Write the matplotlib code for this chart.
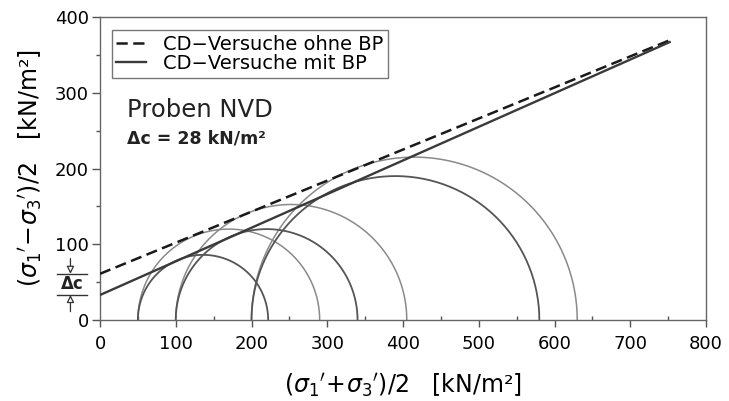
import numpy as np
import matplotlib.pyplot as plt
from matplotlib.ticker import MultipleLocator

# Mohr circles (sigma3', sigma1') in kN/m2
sig3_ohne = [50, 100, 200]
sig1_ohne = [290, 405, 630]
sig3_mit = [50, 100, 200]
sig1_mit = [222, 340, 580]

# failure envelopes: cohesion intercept and slope tan(alpha)
c_ohne, tan_ohne = 61, 0.410
c_mit, tan_mit = 33, 0.444
x_env = [0, 752]

x_ticks = [0, 100, 200, 300, 400, 500, 600, 700, 800]
y_ticks = [0, 100, 200, 300, 400]

plt.rcParams["font.family"] = ["DejaVu Sans"]
plt.rcParams["mathtext.fontset"] = "dejavusans"

DARK = "#3a3a3a"
LIGHT = "#8a8a8a"


def semicircle(s3, s1, n=200):
    m = (s1 + s3) / 2
    r = (s1 - s3) / 2
    t = np.linspace(0, np.pi, n)
    return m + r * np.cos(t), r * np.sin(t)


fig = plt.figure(figsize=(7.29, 4.01), dpi=100)
ax = fig.add_axes([100 / 729, 81 / 401, 606 / 729, 303 / 401])

for s3, s1 in zip(sig3_ohne, sig1_ohne):
    xs, ys = semicircle(s3, s1)
    ax.plot(xs, ys, color=LIGHT, lw=1.1, zorder=2)
for s3, s1 in zip(sig3_mit, sig1_mit):
    xs, ys = semicircle(s3, s1)
    ax.plot(xs, ys, color="#555555", lw=1.3, zorder=2)

xe = np.array(x_env, dtype=float)
ax.plot(xe, c_ohne + tan_ohne * xe, color="#1a1a1a", lw=1.8,
        dashes=(4.5, 2.2), label="CD\u2212Versuche ohne BP", zorder=3)
ax.plot(xe, c_mit + tan_mit * xe, color=DARK, lw=1.7,
        label="CD\u2212Versuche mit BP", zorder=3)

ax.set_xlim(0, 800)
ax.set_ylim(0, 400)
ax.xaxis.set_minor_locator(MultipleLocator(50))
ax.yaxis.set_minor_locator(MultipleLocator(50))
ax.set_xticks(x_ticks)
ax.set_yticks(y_ticks)

ax.tick_params(axis="x", which="major", direction="out", length=5, width=1,
               color="#555555", labelsize=13, pad=6)
ax.tick_params(axis="x", which="minor", direction="in", length=3, width=1,
               color="#555555")
ax.tick_params(axis="y", which="major", direction="out", length=6, width=1,
               color="#555555", labelsize=13, pad=2)
ax.tick_params(axis="y", which="minor", direction="out", length=3, width=1,
               color="#555555")
for sp in ax.spines.values():
    sp.set_color("#666666")
    sp.set_linewidth(1.0)

ax.set_xlabel(r"$(\sigma_{1}{}^{\prime}\!+\!\sigma_{3}{}^{\prime})/2$   [kN/m²]",
              fontsize=17, labelpad=13)
ax.set_ylabel(r"$(\sigma_{1}{}^{\prime}\!-\!\sigma_{3}{}^{\prime})/2$   [kN/m²]",
              fontsize=17, labelpad=8)

leg = ax.legend(loc="upper left", bbox_to_anchor=(0.019, 0.957),
                borderaxespad=0, fontsize=14, frameon=True, fancybox=False,
                edgecolor="#777777", framealpha=1, borderpad=0.25,
                labelspacing=0.0, handlelength=1.5, handletextpad=0.9)
leg.get_frame().set_linewidth(1.0)

ax.text(36, 268, "Proben NVD", fontsize=17.5, color="#222222", va="baseline")
ax.text(36, 233, "\u0394c = 28 kN/m²", fontsize=12.5, fontweight="bold",
        color="#222222", va="baseline")

# delta c marker left of the axis
for yc in (c_ohne, c_mit):
    ax.plot([-57, -17], [yc, yc], color="#333333", lw=1.0, clip_on=False)
ax.text(-37, (c_ohne + c_mit) / 2, "\u0394c", fontsize=12, fontweight="bold",
        ha="center", va="center", color="#222222")
arrow = dict(arrowstyle="-|>", fc="white", ec="#333333", lw=0.9,
             mutation_scale=11, shrinkA=0, shrinkB=0)
ax.annotate("", xy=(-39, c_ohne), xytext=(-39, c_ohne + 20),
            arrowprops=arrow, annotation_clip=False)
ax.annotate("", xy=(-39, c_mit), xytext=(-39, c_mit - 22),
            arrowprops=arrow, annotation_clip=False)

fig.savefig("out.png", dpi=100)
